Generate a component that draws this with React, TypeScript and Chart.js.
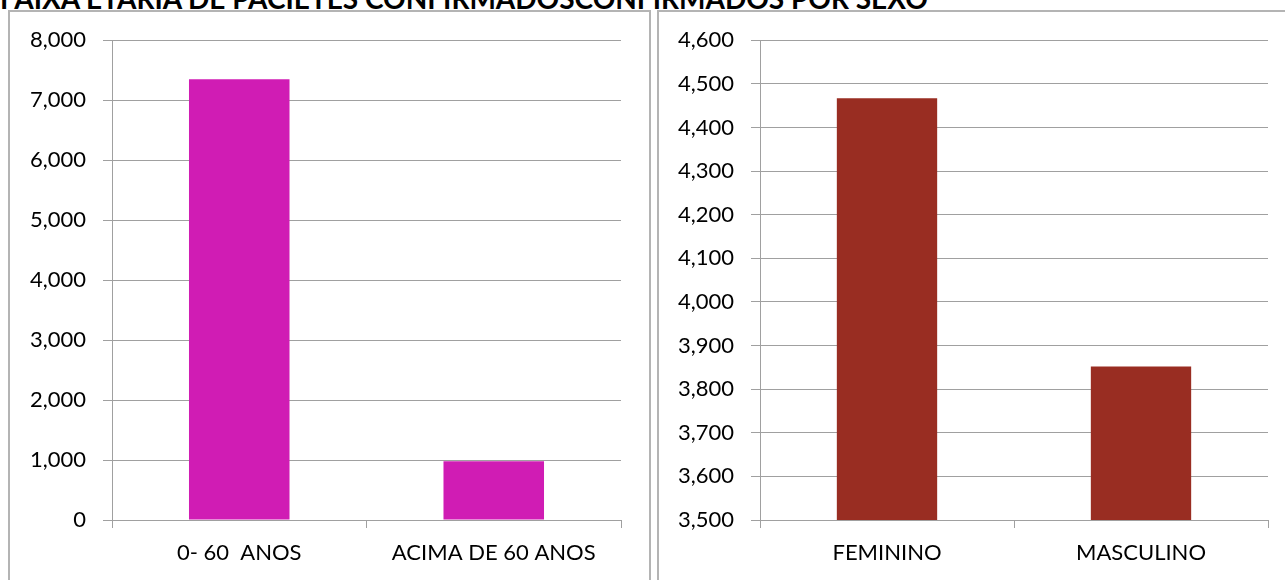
import React, { useEffect, useRef } from "react";
import { Chart, registerables } from "chart.js";

Chart.register(...registerables);

const TITLE = "FAIXA ETÁRIA DE PACIETES CONFIRMADOSCONFIRMADOS POR SEXO";

const ageCategories = ["0- 60  ANOS", "ACIMA DE 60 ANOS"];
const ageValues = [7350, 980];
const ageMin = 0;
const ageMax = 8000;
const ageStep = 1000;

const sexCategories = ["FEMININO", "MASCULINO"];
const sexValues = [4467, 3852];
const sexMin = 3500;
const sexMax = 4600;
const sexStep = 100;

const FONT = "Lato, 'Open Sans', sans-serif";
const GRID = "#a0a0a0";

function buildChart(
  canvas: HTMLCanvasElement,
  labels: string[],
  values: number[],
  color: string,
  min: number,
  max: number,
  step: number,
  yWidth: number,
  padRight: number
) {
  return new Chart(canvas, {
    type: "bar",
    data: {
      labels,
      datasets: [
        {
          data: values,
          backgroundColor: color,
          borderWidth: 0,
          barPercentage: 0.395,
          categoryPercentage: 1,
        },
      ],
    },
    options: {
      animation: false,
      responsive: false,
      maintainAspectRatio: false,
      layout: { padding: { top: 22, right: padRight, bottom: 0, left: 0 } },
      plugins: { legend: { display: false }, tooltip: { enabled: false }, title: { display: false } },
      scales: {
        x: {
          type: "category",
          offset: true,
          grid: {
            offset: true,
            drawOnChartArea: false,
            drawTicks: true,
            tickLength: 8,
            color: GRID,
            lineWidth: 1,
          },
          border: { display: true, color: GRID, width: 1 },
          ticks: {
            font: { family: FONT, size: 22 },
            color: "#000",
            padding: 12,
            maxRotation: 0,
            autoSkip: false,
          },
          afterFit: (s: any) => {
            s.height = 60;
          },
        },
        y: {
          min,
          max,
          grid: { color: GRID, lineWidth: 1, tickLength: 9, drawTicks: true },
          border: { display: true, color: GRID, width: 1 },
          ticks: {
            stepSize: step,
            font: { family: FONT, size: 22 },
            color: "#000",
            padding: 17,
            callback: (v: any) => Number(v).toLocaleString("en-US"),
          },
          afterFit: (s: any) => {
            s.width = yWidth;
          },
        },
      },
    },
  });
}

export default function App() {
  const leftRef = useRef<HTMLCanvasElement>(null);
  const rightRef = useRef<HTMLCanvasElement>(null);

  useEffect(() => {
    const c1 = buildChart(leftRef.current!, ageCategories, ageValues, "#d01cb4", ageMin, ageMax, ageStep, 102, 26);
    const c2 = buildChart(rightRef.current!, sexCategories, sexValues, "#992d22", sexMin, sexMax, sexStep, 101, 17);
    return () => {
      c1.destroy();
      c2.destroy();
    };
  }, []);

  return (
    <div
      style={{
        position: "fixed",
        left: 0,
        top: 0,
        width: 1285,
        height: 580,
        overflow: "hidden",
        background: "#fff",
      }}
    >
      <div
        style={{
          position: "absolute",
          left: 8,
          top: 10,
          width: 639,
          height: 620,
          border: "2px solid #b4b4b4",
          borderBottom: "none",
        }}
      />
      <div
        style={{
          position: "absolute",
          left: 657,
          top: 10,
          width: 700,
          height: 620,
          border: "2px solid #b4b4b4",
          borderBottom: "none",
        }}
      />
      <div
        style={{
          position: "absolute",
          left: 0,
          top: -16,
          whiteSpace: "nowrap",
          fontFamily: FONT,
          fontWeight: 700,
          fontSize: 28,
          lineHeight: 1,
          color: "#000",
        }}
      >
        {TITLE}
      </div>
      <canvas
        ref={leftRef}
        width={637}
        height={570}
        style={{ position: "absolute", left: 10, top: 10, width: 637, height: 570 }}
      />
      <canvas
        ref={rightRef}
        width={626}
        height={570}
        style={{ position: "absolute", left: 659, top: 10, width: 626, height: 570 }}
      />
    </div>
  );
}
